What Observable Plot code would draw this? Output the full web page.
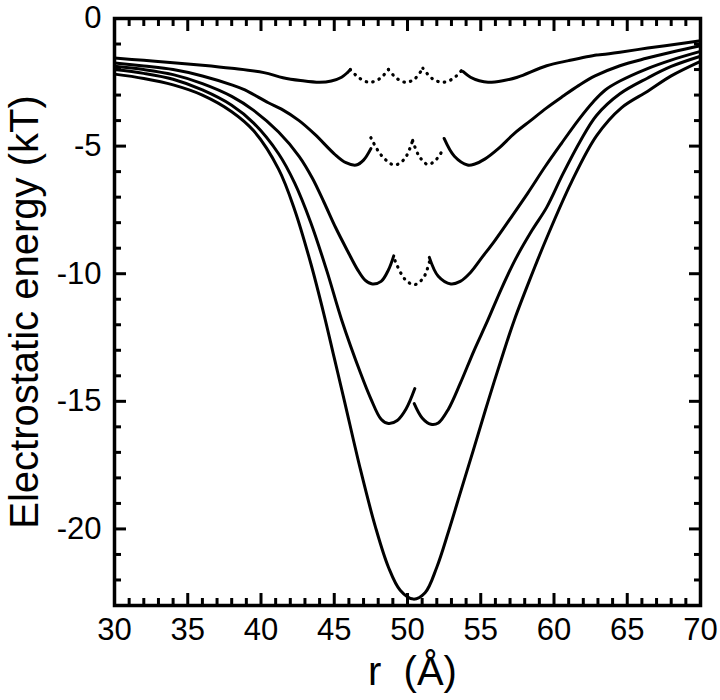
<!DOCTYPE html>
<html>
<head>
<meta charset="utf-8">
<script src="https://cdn.jsdelivr.net/npm/d3@7"></script>
<script src="https://cdn.jsdelivr.net/npm/@observablehq/plot@0.6"></script>
<style>
  body { margin: 0; background: #fff; }
</style>
</head>
<body>
<div id="chart"></div>
<script>
// ---- Data: [r (Å), energy (kT)] ----
const c1Left = [[30,-1.55],[32,-1.64],[34,-1.73],[36,-1.83],[38,-1.95],[40.2,-2.12],[41.5,-2.32],[42.7,-2.43],[44.0,-2.5],[44.8,-2.45],[45.5,-2.3],[45.9,-2.12],[46.1,-2.0]];
const c1Dot1 = [[46.1,-2.0],[46.7,-2.33],[47.4,-2.5],[48.1,-2.36],[48.7,-2.0]];
const c1Dot2 = [[48.7,-2.0],[49.3,-2.36],[49.9,-2.5],[50.5,-2.36],[51.05,-1.95]];
const c1Dot3 = [[51.05,-1.95],[51.7,-2.36],[52.4,-2.5],[53.1,-2.36],[53.7,-2.03]];
const c1Right = [[53.8,-2.08],[54.3,-2.3],[54.9,-2.44],[55.5,-2.5],[56.5,-2.44],[57.5,-2.3],[59.5,-1.85],[61.0,-1.65],[62.9,-1.43],[63.3,-1.41],[64.5,-1.32],[66.4,-1.16],[68.2,-1.02],[70,-0.87]];

const c2Left = [[30,-1.74],[32,-1.86],[34,-2.0],[36,-2.25],[38,-2.6],[38.9,-2.8],[40.5,-3.3],[41.4,-3.55],[42.6,-4.0],[43.7,-4.55],[45.0,-5.3],[45.8,-5.65],[46.5,-5.74],[47.0,-5.55],[47.5,-5.1]];
const c2Dot1 = [[47.5,-4.67],[48.2,-5.35],[49.1,-5.74],[49.8,-5.5],[50.35,-4.78]];
const c2Dot2 = [[50.35,-4.78],[50.8,-5.4],[51.4,-5.72],[52.0,-5.5],[52.46,-5.09]];
const c2Right = [[52.5,-4.7],[53.2,-5.4],[54.1,-5.74],[54.6,-5.7],[55.3,-5.5],[56.2,-5.1],[57.3,-4.5],[58.4,-4.0],[59.5,-3.5],[60.6,-3.05],[61.7,-2.62],[62.8,-2.25],[64.5,-1.85],[66.3,-1.56],[68,-1.32],[70,-1.07]];

const c3Left = [[30,-1.87],[32,-2.0],[34,-2.2],[36,-2.55],[38,-3.05],[39.5,-3.6],[41.2,-4.45],[42.6,-5.4],[43.5,-6.25],[44.3,-7.2],[45.1,-8.2],[45.9,-9.1],[46.6,-9.85],[47.1,-10.25],[47.6,-10.4],[48.2,-10.3],[48.7,-9.85],[49.06,-9.3]];
const c3Dot1 = [[49.15,-9.49],[49.8,-10.2],[50.46,-10.43],[51.1,-10.15],[51.56,-9.39]];
const c3Right = [[51.49,-9.36],[52.1,-10.1],[52.96,-10.4],[53.6,-10.3],[54.3,-9.95],[55.1,-9.35],[55.9,-8.75],[57.0,-7.85],[58.2,-6.85],[59.4,-5.8],[60.5,-4.9],[61.7,-3.95],[62.7,-3.25],[63.5,-2.8],[64.5,-2.45],[66.3,-1.98],[68,-1.63],[70,-1.29]];

const c4Left = [[30,-2.0],[32,-2.15],[34,-2.38],[36,-2.8],[38,-3.4],[39.5,-4.1],[41.2,-5.3],[42.3,-6.45],[43.4,-8.0],[44.5,-9.9],[45.5,-11.8],[46.8,-13.9],[47.5,-14.9],[48.2,-15.7],[48.7,-15.87],[49.3,-15.75],[49.9,-15.3],[50.5,-14.5]];
const c4Right = [[50.46,-15.09],[51.0,-15.65],[51.6,-15.9],[52.1,-15.85],[52.8,-15.3],[53.6,-14.3],[54.55,-13.0],[55.46,-11.85],[56.4,-10.6],[57.4,-9.4],[58.5,-8.3],[59.5,-7.4],[60.6,-6.1],[61.8,-4.8],[62.9,-3.8],[64.5,-2.95],[66.4,-2.33],[68,-1.88],[70,-1.48]];

const c5 = [[30,-2.18],[32,-2.35],[34,-2.6],[36,-3.0],[38,-3.65],[39.5,-4.4],[41.2,-5.9],[42.3,-7.5],[43.4,-9.6],[44.3,-11.6],[45.0,-13.3],[45.7,-15.0],[46.8,-17.7],[47.8,-19.9],[48.7,-21.5],[49.5,-22.4],[50.4,-22.75],[51.2,-22.5],[52.0,-21.5],[52.8,-20.1],[53.65,-18.5],[54.5,-16.9],[55.5,-15.0],[56.6,-13.0],[57.3,-11.8],[58.3,-10.3],[59.5,-8.6],[61.2,-6.4],[62.9,-4.6],[64.6,-3.5],[66.4,-2.85],[68,-2.25],[70,-1.68]];

// ---- Ticks and labels ----
const xTicks = [30, 35, 40, 45, 50, 55, 60, 65, 70];
const yTicks = [0, -5, -10, -15, -20];
const xMinor = d3.range(30, 71, 1).filter(v => v % 5 !== 0);
const yMinor = d3.range(-23, 1, 1).filter(v => v % 5 !== 0);
const xLabel = "r\u00a0\u00a0(Å)";
const yLabel = "Electrostatic energy (kT)";

const segments = [
  {id: "c1L", dotted: false, pts: c1Left},
  {id: "c1D1", dotted: true, pts: c1Dot1},
  {id: "c1D2", dotted: true, pts: c1Dot2},
  {id: "c1D3", dotted: true, pts: c1Dot3},
  {id: "c1R", dotted: false, pts: c1Right},
  {id: "c2L", dotted: false, pts: c2Left},
  {id: "c2D1", dotted: true, pts: c2Dot1},
  {id: "c2D2", dotted: true, pts: c2Dot2},
  {id: "c2R", dotted: false, pts: c2Right},
  {id: "c3L", dotted: false, pts: c3Left},
  {id: "c3D1", dotted: true, pts: c3Dot1},
  {id: "c3R", dotted: false, pts: c3Right},
  {id: "c4L", dotted: false, pts: c4Left},
  {id: "c4R", dotted: false, pts: c4Right},
  {id: "c5", dotted: false, pts: c5}
];
const rows = segments.flatMap(s => s.pts.map(([r, e]) => ({r, e, seg: s.id, dotted: s.dotted})));

const fontFamily = "'Liberation Sans', Arial, Helvetica, sans-serif";

const chart = Plot.plot({
  width: 720,
  height: 700,
  marginLeft: 114,
  marginRight: 20,
  marginTop: 18,
  marginBottom: 95,
  x: {domain: [30, 70], label: null},
  y: {domain: [-23, 0], label: null},
  style: {fontFamily, background: "#fff", color: "#000", overflow: "visible"},
  marks: [
    Plot.line(rows.filter(d => !d.dotted), {x: "r", y: "e", z: "seg", stroke: "#000", strokeWidth: 3, curve: "catmull-rom", strokeLinejoin: "round"}),
    Plot.line(rows.filter(d => d.dotted), {x: "r", y: "e", z: "seg", stroke: "#000", strokeWidth: 3.2, curve: "catmull-rom", strokeDasharray: "0.5,6.2", strokeLinecap: "round"}),
    // inward ticks on all four sides
    Plot.axisX(xTicks, {anchor: "bottom", tickSize: -12, strokeWidth: 3, tickFormat: () => ""}),
    Plot.axisX(xMinor, {anchor: "bottom", tickSize: -7, strokeWidth: 3, tickFormat: () => ""}),
    Plot.axisX(xTicks, {anchor: "top", tickSize: -12, strokeWidth: 3, tickFormat: () => ""}),
    Plot.axisX(xMinor, {anchor: "top", tickSize: -7, strokeWidth: 3, tickFormat: () => ""}),
    Plot.axisY(yTicks, {anchor: "left", tickSize: -12, strokeWidth: 3, tickFormat: () => ""}),
    Plot.axisY(yMinor, {anchor: "left", tickSize: -7, strokeWidth: 3, tickFormat: () => ""}),
    Plot.axisY(yTicks, {anchor: "right", tickSize: -12, strokeWidth: 3, tickFormat: () => ""}),
    Plot.axisY(yMinor, {anchor: "right", tickSize: -7, strokeWidth: 3, tickFormat: () => ""}),
    // tick labels
    Plot.axisX(xTicks, {anchor: "bottom", tickSize: 0, tickPadding: 12, fontSize: 31, tickFormat: d => String(d)}),
    Plot.axisY(yTicks, {anchor: "left", tickSize: 0, tickPadding: 13, fontSize: 31, tickFormat: d => String(d)}),
    Plot.frame({stroke: "#000", strokeWidth: 3.5}),
    // axis titles
    Plot.text([xLabel], {text: d => d, frameAnchor: "bottom", textAnchor: "middle", lineAnchor: "middle", dx: 5, dy: 67, fontSize: 40, fill: "#000"}),
    Plot.text([yLabel], {text: d => d, frameAnchor: "left", textAnchor: "middle", lineAnchor: "middle", rotate: -90, dx: -89, fontSize: 40, fill: "#000"})
  ]
});

document.getElementById("chart").appendChild(chart);
</script>
</body>
</html>
